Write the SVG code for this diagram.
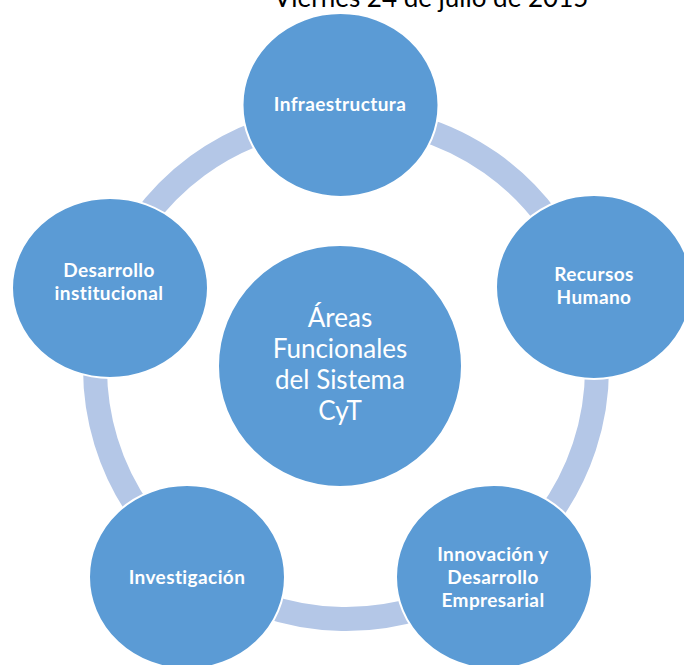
<svg xmlns="http://www.w3.org/2000/svg" width="684" height="665" viewBox="0 0 684 665">
<style>
.ring{fill:none;stroke:#B4C7E7;stroke-width:24}
.node{fill:#5B9BD5;stroke:#FFFFFF;stroke-width:2}
.lbl{font-family:Lato,"Liberation Sans",sans-serif;font-size:19px;font-weight:bold;letter-spacing:0.4px;font-variant-ligatures:none;fill:#FFFFFF;text-anchor:middle}
.big{font-family:Lato,"Liberation Sans",sans-serif;font-size:26px;font-variant-ligatures:none;fill:#FFFFFF;text-anchor:middle}
.title{font-family:Lato,"Liberation Sans",sans-serif;font-size:26px;fill:#000000;text-anchor:middle}
</style>
<rect width="684" height="665" fill="#FFFFFF"/>
<text class="title" x="431" y="7">Viernes 24 de julio de 2015</text>
<g id="connectors">
<path class="ring" d="M340.3,117.1 A251,251 0 0 1 584.6,290"/>
<path class="ring" d="M584.6,290 A251,251 0 0 1 491.1,572.8"/>
<path class="ring" d="M491.1,572.8 A251,251 0 0 1 193.9,567.7"/>
<path class="ring" d="M193.9,567.7 A251,251 0 0 1 108.3,287.5"/>
<path class="ring" d="M108.3,287.5 A251,251 0 0 1 340.3,117.1"/>
</g>
<g id="center">
<ellipse class="node" cx="340" cy="366" rx="122" ry="121"/>
<text class="big" x="340" y="327">Áreas</text>
<text class="big" x="340" y="358">Funcionales</text>
<text class="big" x="340" y="389">del Sistema</text>
<text class="big" x="340" y="420">CyT</text>
</g>
<g id="infraestructura">
<ellipse class="node" cx="340.5" cy="105" rx="98" ry="92"/>
<text class="lbl" x="340" y="111">Infraestructura</text>
</g>
<g id="recursos">
<ellipse class="node" cx="594" cy="287" rx="98" ry="92"/>
<text class="lbl" x="594" y="281">Recursos</text>
<text class="lbl" x="594" y="304">Humano</text>
</g>
<g id="innovacion">
<ellipse class="node" cx="494" cy="577" rx="98" ry="92"/>
<text class="lbl" x="493" y="561">Innovación y</text>
<text class="lbl" x="493" y="584">Desarrollo</text>
<text class="lbl" x="493" y="607">Empresarial</text>
</g>
<g id="investigacion">
<ellipse class="node" cx="187" cy="577" rx="98" ry="92"/>
<text class="lbl" x="187" y="584">Investigación</text>
</g>
<g id="desarrollo">
<ellipse class="node" cx="110" cy="288" rx="98" ry="90"/>
<text class="lbl" x="109" y="277">Desarrollo</text>
<text class="lbl" x="109" y="300">institucional</text>
</g>
</svg>
